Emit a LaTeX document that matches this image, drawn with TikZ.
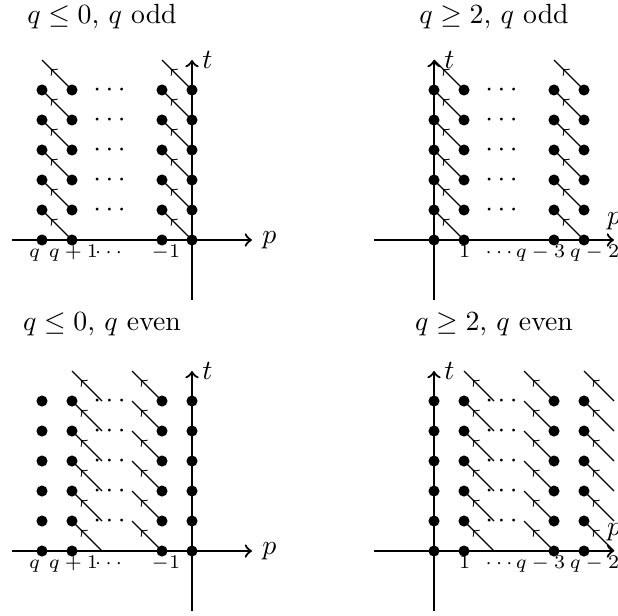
\documentclass[tikz,border=0pt]{standalone}
\usetikzlibrary{decorations.markings}
\begin{document}
\begin{tikzpicture}[x=0.38cm,y=0.38cm,
    dot/.style={circle,fill=black,inner sep=0pt,minimum size=4pt},
    axis/.style={->,thick},
    diff/.style={thin,postaction={decorate},
                 decoration={markings,mark=at position 0.7 with {\arrow{to}}}},
    lbl/.style={font=\scriptsize,anchor=base},
  ]
    \useasboundingbox (-6.4,-12.533) rectangle (14.2,8);

    \begin{scope}[name prefix=tl-]
      \foreach \x in {-6,...,2}
        \foreach \t in {0,...,6}
          \coordinate (g\x-\t) at (\x,\t);
      \coordinate (ybot) at (0,-2);
      \node[inner sep=1pt] (title) at (-3,7.45) {$q\le 0$, $q$ odd};
      \draw[axis] (g-6-0) -- (g2-0) node[right] {$p$};
      \draw[axis] (ybot) -- (g0-6) node[right] {$t$};
      \foreach \t [evaluate=\t as \u using int(\t+1)] in {0,...,5} {
        \draw[diff] (g-4-\t) -- (g-5-\u);
        \draw[diff] (g0-\t) -- (g-1-\u);
      }
      \foreach \x in {-5,-4,-1,0}
        \foreach \t in {0,...,5}
          \node[dot] (d\x-\t) at (g\x-\t) {};
      \foreach \t in {1,...,5}
        \node (c\t) at (-2.75,\t) {$\cdots$};
      \node[lbl] (lq)    at (-5.25,-0.57) {$q$};
      \node[lbl] (lq1)   at (-3.95,-0.57) {$q+1$};
      \node[lbl] (ldots) at (-2.78,-0.57) {$\cdots$};
      \node[lbl] (lm1)   at (-0.87,-0.57) {$-1$};
    \end{scope}

    \begin{scope}[shift={(8.067,0)},name prefix=tr-]
      \foreach \x in {-2,...,6}
        \foreach \t in {0,...,6}
          \coordinate (g\x-\t) at (\x,\t);
      \coordinate (ybot) at (0,-2);
      \node[inner sep=1pt] (title) at (2,7.45) {$q\ge 2$, $q$ odd};
      \draw[axis] (g-2-0) -- (g6-0) node[above] {$p$};
      \draw[axis] (ybot) -- (g0-6) node[right] {$t$};
      \foreach \t [evaluate=\t as \u using int(\t+1)] in {0,...,5} {
        \draw[diff] (g1-\t) -- (g0-\u);
        \draw[diff] (g5-\t) -- (g4-\u);
      }
      \foreach \x in {0,1,4,5}
        \foreach \t in {0,...,5}
          \node[dot] (d\x-\t) at (g\x-\t) {};
      \foreach \t in {1,...,5}
        \node (c\t) at (2.25,\t) {$\cdots$};
      \node[lbl] (l1)    at (1.02,-0.57) {$1$};
      \node[lbl] (ldots) at (2.17,-0.57) {$\cdots$};
      \node[lbl] (lq3)   at (3.55,-0.57) {$q-3$};
      \node[lbl] (lq2)   at (5.35,-0.57) {$q-2$};
    \end{scope}

    \begin{scope}[shift={(0,-10.367)},name prefix=bl-]
      \foreach \x in {-6,...,2}
        \foreach \t in {0,...,6}
          \coordinate (g\x-\t) at (\x,\t);
      \coordinate (ybot) at (0,-2);
      \node[inner sep=1pt] (title) at (-3,7.55) {$q\le 0$, $q$ even};
      \draw[axis] (g-6-0) -- (g2-0) node[right] {$p$};
      \draw[axis] (ybot) -- (g0-6) node[right] {$t$};
      \foreach \t [evaluate=\t as \u using int(\t+1)] in {0,...,5} {
        \draw[diff] (g-3-\t) -- (g-4-\u);
        \draw[diff] (g-1-\t) -- (g-2-\u);
      }
      \foreach \x in {-5,-4,-1,0}
        \foreach \t in {0,...,5}
          \node[dot] (d\x-\t) at (g\x-\t) {};
      \foreach \t in {1,...,5}
        \node (c\t) at (-2.75,\t) {$\cdots$};
      \node[lbl] (lq)    at (-5.25,-0.57) {$q$};
      \node[lbl] (lq1)   at (-3.95,-0.57) {$q+1$};
      \node[lbl] (ldots) at (-2.78,-0.57) {$\cdots$};
      \node[lbl] (lm1)   at (-0.87,-0.57) {$-1$};
    \end{scope}

    \begin{scope}[shift={(8.067,-10.367)},name prefix=br-]
      \foreach \x in {-2,...,6}
        \foreach \t in {0,...,6}
          \coordinate (g\x-\t) at (\x,\t);
      \coordinate (ybot) at (0,-2);
      \node[inner sep=1pt] (title) at (2,7.55) {$q\ge 2$, $q$ even};
      \draw[axis] (g-2-0) -- (g6-0) node[above] {$p$};
      \draw[axis] (ybot) -- (g0-6) node[right] {$t$};
      \foreach \t [evaluate=\t as \u using int(\t+1)] in {0,...,5} {
        \draw[diff] (g2-\t) -- (g1-\u);
        \draw[diff] (g4-\t) -- (g3-\u);
        \draw[diff] (g6-\t) -- (g5-\u);
      }
      \foreach \x in {0,1,4,5}
        \foreach \t in {0,...,5}
          \node[dot] (d\x-\t) at (g\x-\t) {};
      \foreach \t in {1,...,5}
        \node (c\t) at (2.25,\t) {$\cdots$};
      \node[lbl] (l1)    at (1.02,-0.57) {$1$};
      \node[lbl] (ldots) at (2.17,-0.57) {$\cdots$};
      \node[lbl] (lq3)   at (3.55,-0.57) {$q-3$};
      \node[lbl] (lq2)   at (5.35,-0.57) {$q-2$};
    \end{scope}

  \end{tikzpicture}
\end{document}
